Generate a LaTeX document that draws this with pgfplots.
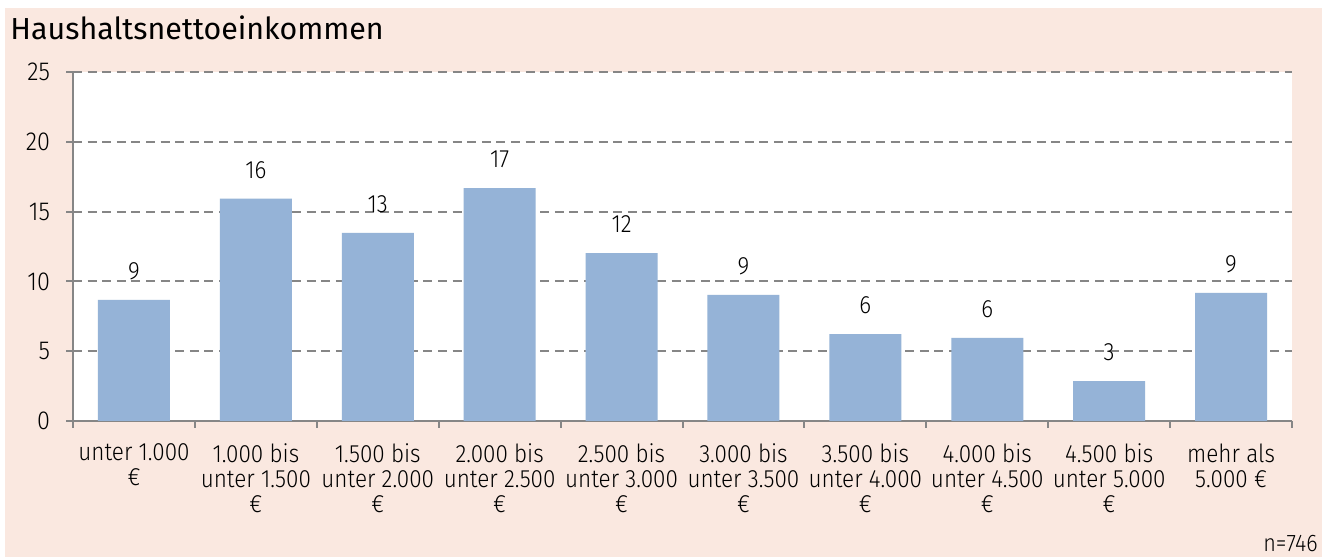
\documentclass[border=0pt]{standalone}
\usepackage{fontspec}
\setmainfont{Fira Sans Light}[FakeStretch=0.9]
\newfontfamily\titlefont{Fira Sans}
\usepackage{pgfplots}
\pgfplotsset{compat=1.18}
\definecolor{bgpink}{RGB}{250,232,224}
\definecolor{barblue}{RGB}{149,179,215}
\definecolor{axgray}{RGB}{134,134,134}
\begin{document}
\begin{tikzpicture}
\useasboundingbox (0pt,0pt) rectangle (661pt,278.5pt);
\fill[white] (0pt,0pt) rectangle (661pt,278.5pt);
\fill[bgpink] (2.5pt,0pt) rectangle (661pt,274.5pt);
\node[anchor=base west, font=\titlefont\fontsize{15.2}{18}\selectfont, inner sep=0pt] at (5pt,258.5pt) {Haushaltsnettoeinkommen};
\node[anchor=base east, font=\fontsize{12}{12.5}\selectfont, inner sep=0pt] at (659pt,3pt) {n=746};
\begin{axis}[at={(36.5pt,68pt)}, anchor=south west, scale only axis,
  width=609.5pt, height=174.5pt,
  ymin=0, ymax=25, xmin=-0.5, xmax=9.5,
  axis background/.style={fill=white},
  axis x line*=bottom, axis y line*=left,
  axis line style={axgray, line width=1pt, -},
  ytick={0,5,...,25},
  ymajorgrids, grid style={axgray, line width=1pt, dash pattern=on 4.5pt off 2.8pt},
  tick align=outside,
  major tick length=3.5pt,
  tick style={axgray, line width=1pt},
  xtick={-0.5,0.5,...,9.5},
  xticklabels={},
  extra x ticks={0,1,2,3,4,5,6,7,8,9},
  extra x tick labels={{unter 1.000\\€},{1.000 bis\\unter 1.500\\€},{1.500 bis\\unter 2.000\\€},{2.000 bis\\unter 2.500\\€},{2.500 bis\\unter 3.000\\€},{3.000 bis\\unter 3.500\\€},{3.500 bis\\unter 4.000\\€},{4.000 bis\\unter 4.500\\€},{4.500 bis\\unter 5.000\\€},{mehr als\\5.000 €}},
  extra x tick style={tick style={draw=none}, xticklabel style={align=center, font=\fontsize{12.5}{12.5}\selectfont, yshift=-4.5pt}},
  yticklabel style={font=\fontsize{13}{13}\selectfont, xshift=-4.5pt},
  /pgf/number format/assume math mode=true,
  ybar, bar width=36pt,
  point meta=explicit symbolic,
  nodes near coords,
  nodes near coords style={font=\fontsize{12.5}{12.5}\selectfont, yshift=6.5pt, black},
]
\addplot[fill=barblue, draw=none] table[x=x, y=y, meta=lab] {
x y lab
0 8.67 9
1 15.93 16
2 13.47 13
3 16.68 17
4 12.03 12
5 9.03 9
6 6.23 6
7 5.95 6
8 2.85 3
9 9.17 9
};
\end{axis}
\end{tikzpicture}
\end{document}
